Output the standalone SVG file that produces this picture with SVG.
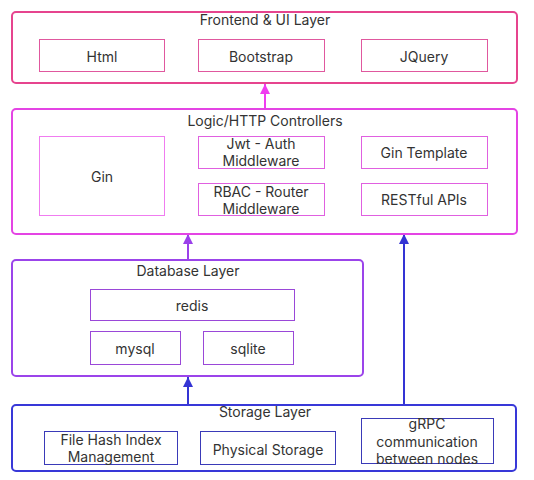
<svg xmlns="http://www.w3.org/2000/svg" width="534" height="480" viewBox="0 0 534 480">
<defs>
<style>
text{font-family:Inter,"Noto Sans","Liberation Sans",sans-serif;font-size:14px;fill:#333;text-anchor:middle;dominant-baseline:central}
.layer{fill:#fff;stroke-width:2}
.box{fill:#fff;stroke-width:1}
</style>
<marker id="amag" viewBox="0 0 10 10" refX="10" refY="5" markerWidth="10" markerHeight="10" markerUnits="userSpaceOnUse" orient="auto"><path d="M0,0L10,5L0,10z" fill="#f03cf0"/></marker>
<marker id="apur" viewBox="0 0 10 10" refX="10" refY="5" markerWidth="10" markerHeight="10" markerUnits="userSpaceOnUse" orient="auto"><path d="M0,0L10,5L0,10z" fill="#9b40ea"/></marker>
<marker id="ablu" viewBox="0 0 10 10" refX="10" refY="5" markerWidth="10" markerHeight="10" markerUnits="userSpaceOnUse" orient="auto"><path d="M0,0L10,5L0,10z" fill="#3434d4"/></marker>
</defs>
<rect width="534" height="480" fill="#fff"/>
<g id="connectors" stroke-width="2" fill="none">
<line x1="265" y1="109" x2="265" y2="84" stroke="#f03cf0" marker-end="url(#amag)"/>
<line x1="188" y1="260" x2="188" y2="234" stroke="#9b40ea" marker-end="url(#apur)"/>
<line x1="188" y1="405" x2="188" y2="377" stroke="#3434d4" marker-end="url(#ablu)"/>
<line x1="404" y1="405" x2="404" y2="234" stroke="#3434d4" marker-end="url(#ablu)"/>
</g>
<g id="frontend">
<rect class="layer" x="12" y="12" width="505" height="71" rx="4" stroke="#e6448e"/>
<text x="265" y="19">Frontend &amp; UI Layer</text>
<g id="html"><rect class="box" x="39.5" y="39.5" width="125" height="32" stroke="#e0589e"/><text x="102" y="56">Html</text></g>
<g id="bootstrap"><rect class="box" x="198.5" y="39.5" width="126" height="32" stroke="#e0589e"/><text x="261" y="56">Bootstrap</text></g>
<g id="jquery"><rect class="box" x="361.5" y="39.5" width="126" height="32" stroke="#e0589e"/><text x="424" y="56">JQuery</text></g>
</g>
<g id="logic">
<rect class="layer" x="12" y="109" width="505" height="125" rx="4" stroke="#e444e4"/>
<text x="265" y="120">Logic/HTTP Controllers</text>
<g id="gin"><rect class="box" x="39.5" y="136.5" width="125" height="79" stroke="#f07cf0"/><text x="102" y="176">Gin</text></g>
<g id="jwt"><rect class="box" x="198.5" y="136.5" width="126" height="32" stroke="#e060e0"/><text x="261" y="143">Jwt - Auth</text><text x="261" y="160">Middleware</text></g>
<g id="rbac"><rect class="box" x="198.5" y="183.5" width="126" height="32" stroke="#e060e0"/><text x="261" y="191">RBAC - Router</text><text x="261" y="208">Middleware</text></g>
<g id="gintemplate"><rect class="box" x="361.5" y="136.5" width="126" height="32" stroke="#e060e0"/><text x="424" y="152">Gin Template</text></g>
<g id="restful"><rect class="box" x="361.5" y="183.5" width="126" height="32" stroke="#e060e0"/><text x="424" y="199">RESTful APIs</text></g>
</g>
<g id="database">
<rect class="layer" x="12" y="260" width="351" height="116" rx="4" stroke="#9b44ea"/>
<text x="188" y="270">Database Layer</text>
<g id="redis"><rect class="box" x="90.5" y="289.5" width="204" height="31" stroke="#9a48d8"/><text x="192" y="305">redis</text></g>
<g id="mysql"><rect class="box" x="90.5" y="331.5" width="90" height="33" stroke="#9a48d8"/><text x="135" y="348">mysql</text></g>
<g id="sqlite"><rect class="box" x="203.5" y="331.5" width="90" height="33" stroke="#9a48d8"/><text x="248" y="348">sqlite</text></g>
</g>
<g id="storage">
<rect class="layer" x="12" y="405" width="504" height="66" rx="4" stroke="#3838d8"/>
<text x="265" y="411">Storage Layer</text>
<g id="filehash"><rect class="box" x="44.5" y="431.5" width="133" height="33" stroke="#3a3ab8"/><text x="111" y="439">File Hash Index</text><text x="111" y="456">Management</text></g>
<g id="physical"><rect class="box" x="200.5" y="431.5" width="135" height="33" stroke="#3a3ab8"/><text x="268" y="449">Physical Storage</text></g>
<g id="grpc"><rect class="box" x="361.5" y="418.5" width="132" height="45" stroke="#3a3ab8"/><text x="427" y="423">gRPC</text><text x="427" y="441">communication</text><text x="427" y="458">between nodes</text></g>
</g>
</svg>
